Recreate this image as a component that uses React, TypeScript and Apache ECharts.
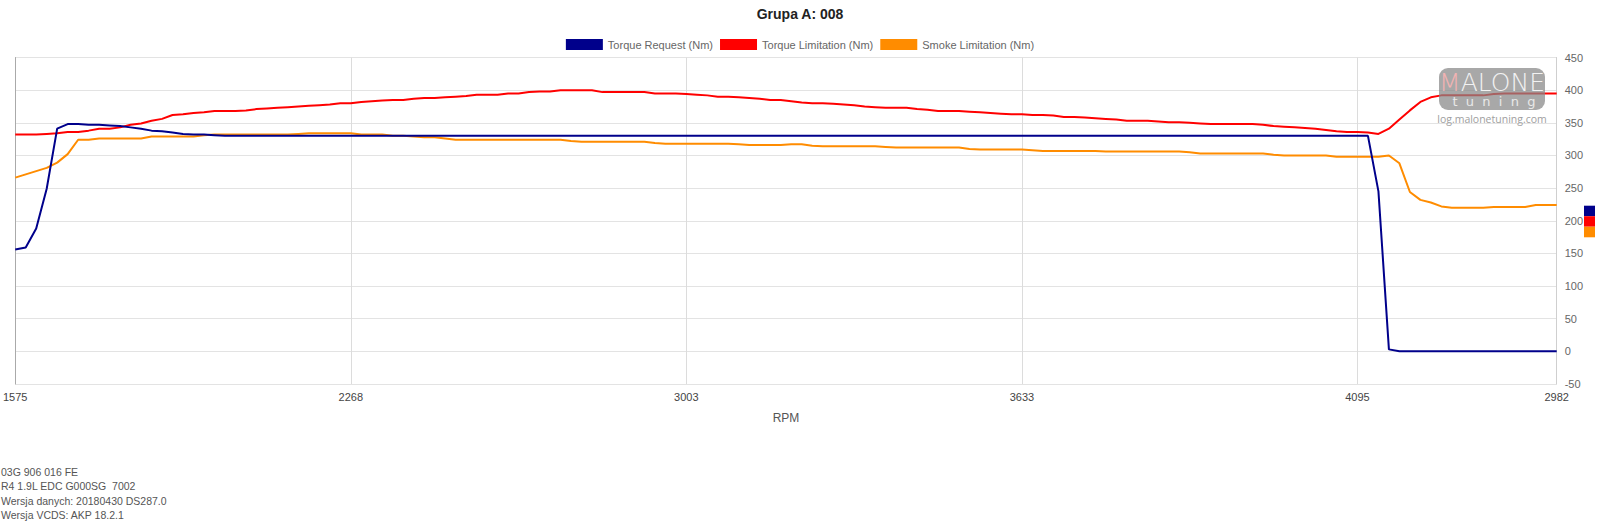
import React, { useEffect, useRef } from "react";
import * as echarts from "echarts";

const seriesNames = ["Torque Request (Nm)", "Torque Limitation (Nm)", "Smoke Limitation (Nm)"];
const seriesColors = ["#00008B", "#FF0000", "#FF8C00"];

// x tick positions (sample index) and their RPM labels
const xTickIndex = [0, 32, 64, 96, 128, 147];
const xTickLabels = ["1575", "2268", "3003", "3633", "4095", "2982"];

const torqueRequest = [
  156, 159, 188, 249, 341, 348, 348, 347, 347, 346, 345, 343, 341, 338, 337, 335, 333, 332, 332, 331,
  330, 330, 330, 330, 330, 330, 330, 330, 330, 330, 330, 330, 330, 330, 330, 330, 330, 330, 330, 330,
  330, 330, 330, 330, 330, 330, 330, 330, 330, 330, 330, 330, 330, 330, 330, 330, 330, 330, 330, 330,
  330, 330, 330, 330, 330, 330, 330, 330, 330, 330, 330, 330, 330, 330, 330, 330, 330, 330, 330, 330,
  330, 330, 330, 330, 330, 330, 330, 330, 330, 330, 330, 330, 330, 330, 330, 330, 330, 330, 330, 330,
  330, 330, 330, 330, 330, 330, 330, 330, 330, 330, 330, 330, 330, 330, 330, 330, 330, 330, 330, 330,
  330, 330, 330, 330, 330, 330, 330, 330, 330, 330,
  245, 3,
  0, 0, 0, 0, 0, 0, 0, 0, 0, 0, 0, 0, 0, 0, 0, 0,
];

const torqueLimitation = [
  332, 332, 332, 333, 334, 336, 336, 338, 341, 341, 343, 347, 349, 353, 356, 362, 363, 365, 366, 368,
  368, 368, 369, 371, 372, 373, 374, 375, 376, 377, 378, 380, 380, 382, 383, 384, 385,
  385, 387, 388, 388, 389, 390, 391, 393, 393, 393, 395, 395, 397, 398, 398, 400, 400, 400, 400, 397,
  397, 397, 397, 397, 395, 395, 395, 394, 393, 392, 390, 390, 389, 388, 387, 385, 385,
  383, 381, 380, 380, 379, 378, 377, 375, 374, 373, 373, 373, 371, 370, 368, 368, 368, 367, 366, 365,
  364, 363, 363, 362, 362, 361, 359, 359, 358, 357, 356, 355, 353, 353, 353, 352, 351, 351,
  350, 349, 348, 348, 348, 348, 348, 347, 345, 344, 343, 342, 341, 339, 337, 336, 336, 335, 333, 341,
  355, 369, 382, 389, 392, 392, 392, 392, 392, 394, 395, 395, 395, 395, 395, 395,
];

const smokeLimitation = [
  266, 271, 276, 281, 289, 302, 324, 324, 326, 326, 326, 326, 326, 329, 329, 329, 329, 329, 331, 332,
  332, 332, 332, 332, 332, 332, 332, 333, 334, 334, 334, 334, 334, 332, 332, 332, 330,
  330, 329, 328, 328, 326, 324, 324, 324, 324, 324, 324, 324, 324, 324, 324, 324, 322, 321, 321, 321,
  321, 321, 321, 321, 319, 318, 318, 318, 318, 318, 318, 318, 317, 316, 316, 316, 316,
  317, 317, 315, 314, 314, 314, 314, 314, 314, 313, 312, 312, 312, 312, 312, 312, 312, 310, 309, 309,
  309, 309, 309, 308, 307, 307, 307, 307, 307, 307, 306, 306, 306, 306, 306, 306, 306, 306,
  305, 303, 303, 303, 303, 303, 303, 303, 301, 300, 300, 300, 300, 300, 298, 298, 298, 298, 298, 300,
  288, 244, 232, 228, 222, 220, 220, 220, 220, 221, 221, 221, 221, 224, 224, 224,
];

const infoLines = [
  "03G 906 016 FE",
  "R4 1.9L EDC G000SG  7002",
  "Wersja danych: 20180430 DS287.0",
  "Wersja VCDS: AKP 18.2.1",
];

const FONT = "'Liberation Sans', Arial, sans-serif";

export default function App() {
  const ref = useRef<HTMLDivElement>(null);

  useEffect(() => {
    if (!ref.current) return;
    const chart = echarts.init(ref.current, undefined, { renderer: "svg" });
    const categories = torqueRequest.map((_, i) => String(i));
    const tickSet = new Set(xTickIndex);
    const labelFor = (i: number) => {
      const k = xTickIndex.indexOf(i);
      return k >= 0 ? xTickLabels[k] : "";
    };
    const seriesData = [torqueRequest, torqueLimitation, smokeLimitation];

    const graphics: any[] = [
      {
        type: "rect",
        shape: { x: 1439, y: 68, width: 106, height: 42, r: 9 },
        style: { fill: "rgba(135,135,135,0.72)" },
        silent: true,
        z: 10,
      },
      {
        type: "text",
        x: 1492,
        y: 82,
        style: {
          text: "{m|M}ALONE",
          align: "center",
          verticalAlign: "middle",
          fontSize: 25,
          fontFamily: "'DejaVu Sans', sans-serif",
          fontWeight: 200,
          fill: "#f2f2f2",
          rich: { m: { fontSize: 25, fill: "#f3b3b3", fontFamily: "'DejaVu Sans', sans-serif", fontWeight: 200 } },
        },
        z: 11,
      },
      {
        type: "text",
        x: 1494,
        y: 101,
        style: {
          text: "t  u  n  i  n  g",
          align: "center",
          verticalAlign: "middle",
          fontSize: 13,
          fontFamily: "'DejaVu Sans', sans-serif",
          fill: "#e8e8e8",
        },
        z: 11,
      },
      {
        type: "text",
        x: 1492,
        y: 119,
        style: {
          text: "log.malonetuning.com",
          align: "center",
          verticalAlign: "middle",
          fontSize: 10.5,
          fontFamily: "'Open Sans', sans-serif",
          fill: "#a0a0a0",
        },
        z: 11,
      },
      { type: "rect", shape: { x: 1584, y: 205.7, width: 11, height: 10.5 }, style: { fill: seriesColors[0] } },
      { type: "rect", shape: { x: 1584, y: 216.2, width: 11, height: 10.5 }, style: { fill: seriesColors[1] } },
      { type: "rect", shape: { x: 1584, y: 226.7, width: 11, height: 10.6 }, style: { fill: seriesColors[2] } },
      ...infoLines.map((t, i) => ({
        type: "text",
        x: 1,
        y: 471.5 + i * 14.5,
        style: {
          text: t,
          verticalAlign: "middle",
          fontSize: 10.5,
          fontFamily: FONT,
          fill: "#555",
        },
      })),
    ];

    chart.setOption({
      animation: false,
      textStyle: { fontFamily: FONT },
      title: {
        text: "Grupa A: 008",
        left: "center",
        top: 2,
        textStyle: { fontSize: 14, fontWeight: "bold", color: "#222", fontFamily: FONT },
      },
      legend: {
        top: 34,
        left: "center",
        icon: "rect",
        itemWidth: 37,
        itemHeight: 11,
        itemGap: 7,
        textStyle: { fontSize: 11, color: "#666", fontFamily: FONT },
        data: seriesNames,
      },
      grid: { left: 14.3, right: 43.3, top: 57.5, bottom: 137 },
      xAxis: {
        type: "category",
        boundaryGap: false,
        data: categories,
        axisLine: { show: false },
        axisTick: { show: false },
        axisLabel: {
          interval: (i: number) => tickSet.has(i),
          formatter: (_v: string, i: number) => labelFor(i),
          color: "#444",
          fontSize: 11,
          margin: 7,
          fontFamily: FONT,
        },
        splitLine: {
          show: true,
          interval: (i: number) => tickSet.has(i),
          lineStyle: { color: "#dcdcdc", width: 1 },
        },
        name: "RPM",
        nameLocation: "middle",
        nameGap: 28,
        nameTextStyle: { color: "#555", fontSize: 12, fontFamily: FONT },
      },
      yAxis: [
        {
          type: "value",
          position: "right",
          min: -50,
          max: 450,
          interval: 50,
          axisLine: { show: true, lineStyle: { color: "#cfcfcf" } },
          axisTick: { show: false },
          axisLabel: { color: "#666", fontSize: 11, margin: 8, fontFamily: FONT },
          splitLine: { show: true, lineStyle: { color: "#e3e3e3" } },
        },
        {
          type: "value",
          position: "left",
          min: -50,
          max: 450,
          interval: 50,
          axisLine: { show: true, lineStyle: { color: "#aaaaaa" } },
          axisTick: { show: false },
          axisLabel: { show: false },
          splitLine: { show: false },
        },
      ],
      series: seriesNames.map((name, k) => ({
        name,
        type: "line",
        data: seriesData[k],
        yAxisIndex: 0,
        symbol: "none",
        color: seriesColors[k],
        lineStyle: { width: 2, color: seriesColors[k] },
        z: 3 - k + 2,
      })),
      graphic: graphics,
    });

    return () => chart.dispose();
  }, []);

  return (
    <div
      ref={ref}
      style={{ position: "absolute", left: 0, top: 0, width: 1600, height: 521, background: "#fff" }}
    />
  );
}
